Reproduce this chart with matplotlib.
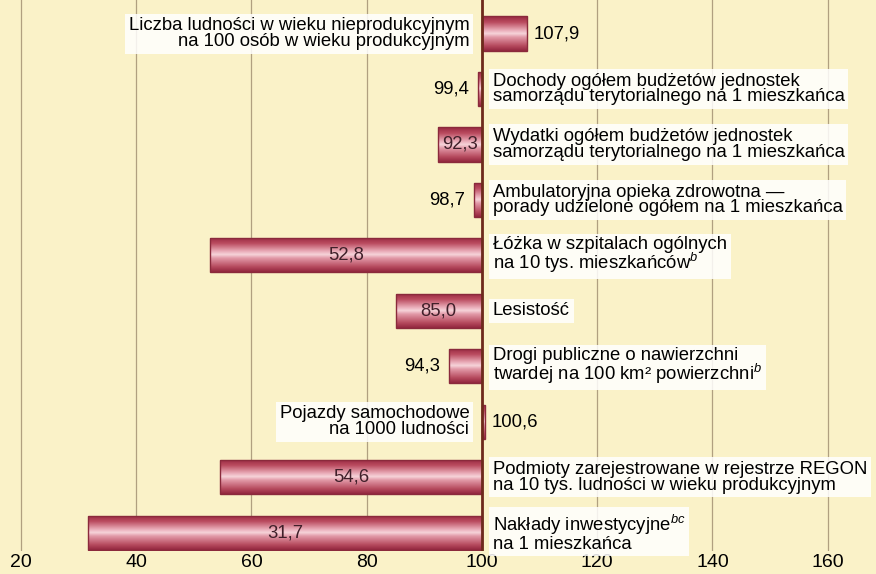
import numpy as np
import matplotlib
matplotlib.use("Agg")
import matplotlib.pyplot as plt
from matplotlib.colors import LinearSegmentedColormap

plt.rcParams['font.family'] = ['Liberation Sans', 'DejaVu Sans']
plt.rcParams['mathtext.fontset'] = 'custom'
plt.rcParams['mathtext.it'] = 'Liberation Sans:italic'
plt.rcParams['mathtext.rm'] = 'Liberation Sans'

categories = [
    "Liczba ludności w wieku nieprodukcyjnym\nna 100 osób w wieku produkcyjnym",
    "Dochody ogółem budżetów jednostek\nsamorządu terytorialnego na 1 mieszkańca",
    "Wydatki ogółem budżetów jednostek\nsamorządu terytorialnego na 1 mieszkańca",
    "Ambulatoryjna opieka zdrowotna —\nporady udzielone ogółem na 1 mieszkańca",
    "Łóżka w szpitalach ogólnych\nna 10 tys. mieszkańców$^{\\it b}$",
    "Lesistość",
    "Drogi publiczne o nawierzchni\ntwardej na 100 km² powierzchni$^{\\it b}$",
    "Pojazdy samochodowe\nna 1000 ludności",
    "Podmioty zarejestrowane w rejestrze REGON\nna 10 tys. ludności w wieku produkcyjnym",
    "Nakłady inwestycyjne$^{\\it bc}$\nna 1 mieszkańca",
]
values = [107.9, 99.4, 92.3, 98.7, 52.8, 85.0, 94.3, 100.6, 54.6, 31.7]
xticks = [20, 40, 60, 80, 100, 120, 140, 160]
baseline = 100

bg = '#faf2c8'
fig = plt.figure(figsize=(8.76, 5.74), dpi=100, facecolor=bg)
ax = fig.add_axes([0, 23 / 574, 1, 551 / 574])
ax.set_facecolor(bg)

n = len(values)
y = np.arange(n)
ax.set_xlim(16.35, 168.4)
ax.set_ylim(9.33, -0.605)

for t in xticks:
    ax.axvline(t, color='#b0a080', lw=0.9, zorder=1)

cmap = LinearSegmentedColormap.from_list('bar', [
    (0.0, '#962840'), (0.18, '#bb4c60'), (0.40, '#e9aab6'), (0.50, '#f6d4da'),
    (0.60, '#e29aa8'), (0.85, '#b64a5e'), (1.0, '#92263e')])
grad = np.linspace(0, 1, 256).reshape(-1, 1)

bars = ax.barh(y, [v - baseline for v in values], left=baseline, height=0.615,
               facecolor='none', edgecolor='#8a2a3c', lw=1.0, zorder=3)
for b in bars:
    x0, y0 = b.get_x(), b.get_y()
    w, h = b.get_width(), b.get_height()
    im = ax.imshow(grad, cmap=cmap, aspect='auto',
                   extent=(min(x0, x0 + w), max(x0, x0 + w), y0 + h, y0),
                   zorder=2, interpolation='bilinear')
    im.set_clip_path(b)

ax.axvline(baseline, color='#6e2a1c', lw=2.0, zorder=4)

box = dict(boxstyle='square,pad=0.2', fc='white', ec='none', alpha=0.85)
fs = 13.3
for i, (cat, v) in enumerate(zip(categories, values)):
    lab = f"{v:.1f}".replace('.', ',')
    if v > baseline:
        ax.text(baseline - 2.2, i, cat, ha='right', va='center', fontsize=fs,
                linespacing=0.9, bbox=box, zorder=5)
        ax.text(v + 1.0, i, lab, ha='left', va='center', fontsize=fs, zorder=5)
    else:
        ax.text(baseline + 1.9, i, cat, ha='left', va='center', fontsize=fs,
                linespacing=0.9, bbox=box, zorder=5)
        if baseline - v > 7:
            ax.text((v + baseline) / 2, i, lab, ha='center', va='center',
                    fontsize=fs, color='#40202a', zorder=5)
        else:
            ax.text(v - 1.6, i, lab, ha='right', va='center', fontsize=fs, zorder=5)

ax.set_xticks(xticks)
ax.set_xticklabels([str(t) for t in xticks], fontsize=14)
ax.tick_params(axis='x', length=0, pad=2)
ax.set_yticks([])
for s in ax.spines.values():
    s.set_visible(False)

fig.savefig('out.png', dpi=100, facecolor=bg)
